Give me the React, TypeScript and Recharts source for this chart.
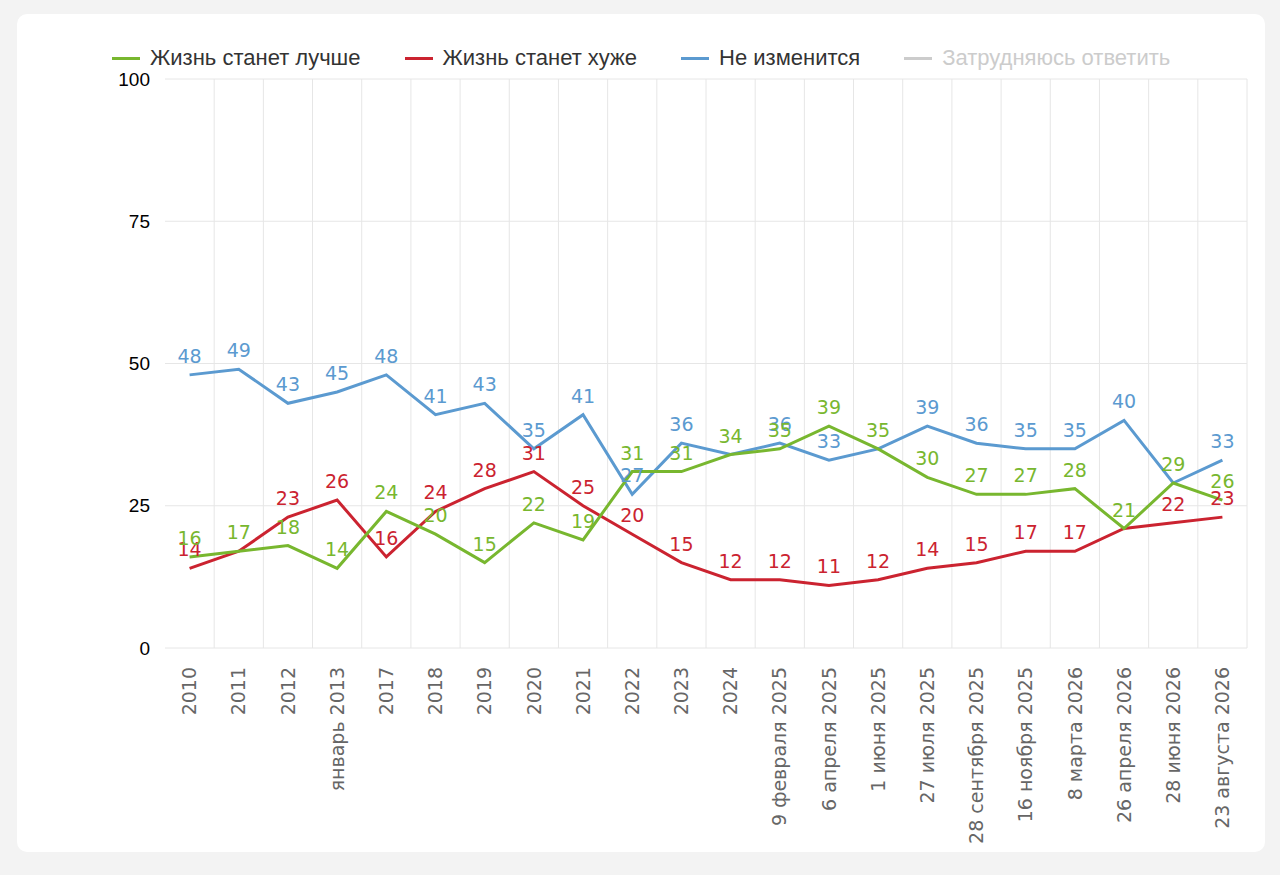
import React from "react";
import { LineChart, Line, XAxis, YAxis, CartesianGrid } from "recharts";

const categories = [
  "2010", "2011", "2012", "январь 2013", "2017", "2018", "2019", "2020", "2021", "2022", "2023", "2024",
  "9 февраля 2025", "6 апреля 2025", "1 июня 2025", "27 июля 2025", "28 сентября 2025", "16 ноября 2025",
  "8 марта 2026", "26 апреля 2026", "28 июня 2026", "23 августа 2026",
];
const better = [16, 17, 18, 14, 24, 20, 15, 22, 19, 31, 31, 34, 35, 39, 35, 30, 27, 27, 28, 21, 29, 26];
const worse = [14, 17, 23, 26, 16, 24, 28, 31, 25, 20, 15, 12, 12, 11, 12, 14, 15, 17, 17, 21, 22, 23];
const same = [48, 49, 43, 45, 48, 41, 43, 35, 41, 27, 36, 34, 36, 33, 35, 39, 36, 35, 35, 40, 29, 33];
const yTicks = [0, 25, 50, 75, 100];

const seriesNames = ["Жизнь станет лучше", "Жизнь станет хуже", "Не изменится", "Затрудняюсь ответить"];
const seriesColors = ["#78b72f", "#cb2330", "#5b9ad0", "#cccccc"];

const data = categories.map((c, i) => ({ cat: c, better: better[i], worse: worse[i], same: same[i] }));
const boundaryTicks = categories.map((_, i) => i + 1);

const verticalGen = (props: any) => {
  const { xAxis, offset } = props;
  try {
    if (xAxis && typeof xAxis.scale === "function") {
      const pts = boundaryTicks.map((t) => xAxis.scale(t));
      if (pts.every((p: any) => typeof p === "number" && isFinite(p))) return pts;
    }
  } catch (e) {
    /* fall through */
  }
  return boundaryTicks.map((t) => offset.left + (t * offset.width) / categories.length);
};

const makeLabel = (color: string, hideIfEqual?: number[]) => (props: any) => {
  const { x, y, value, index } = props;
  if (hideIfEqual && hideIfEqual[index] === value) return null;
  return (
    <text x={x} y={y - 12} fill={color} fontSize={19} fontFamily="DejaVu Sans" textAnchor="middle">
      {value}
    </text>
  );
};

const XTick = (props: any) => {
  const { x, y, payload } = props;
  return (
    <text
      x={x}
      y={y}
      transform={`rotate(-90, ${x}, ${y})`}
      textAnchor="end"
      dy="0.35em"
      fill="#666666"
      fontSize={19}
      fontFamily="DejaVu Sans"
    >
      {payload.value}
    </text>
  );
};

const Legend = () => (
  <div
    style={{
      position: "absolute",
      left: 112,
      top: 45,
      display: "flex",
      alignItems: "center",
      fontFamily: "Liberation Sans",
      fontSize: 22,
      whiteSpace: "nowrap",
    }}
  >
    {seriesNames.map((n, i) => (
      <div key={n} style={{ display: "flex", alignItems: "center", marginRight: 44 }}>
        <div style={{ width: 28, height: 3, background: seriesColors[i], marginRight: 10 }} />
        <span style={{ color: i === 3 ? "#cccccc" : "#333333" }}>{n}</span>
      </div>
    ))}
  </div>
);

export default function App() {
  return (
    <div style={{ position: "fixed", left: 0, top: 0, width: 1280, height: 875, background: "#f3f3f3" }}>
      <div
        style={{
          position: "absolute",
          left: 17,
          top: 14,
          width: 1248,
          height: 838,
          background: "#ffffff",
          borderRadius: 10,
        }}
      />
      <div style={{ position: "absolute", left: 0, top: 0 }}>
        <LineChart width={1280} height={875} data={data} margin={{ top: 79, right: 33, bottom: 27, left: 105 }}>
          <XAxis
            xAxisId="grid"
            type="number"
            domain={[0, categories.length]}
            ticks={boundaryTicks}
            allowDataOverflow
            height={0}
            tick={false}
            tickSize={9}
            tickLine={{ stroke: "#ccd6eb" }}
            axisLine={{ stroke: "#ccd6eb" }}
          />
          <XAxis
            dataKey="cat"
            scale="band"
            interval={0}
            height={200}
            axisLine={false}
            tickLine={false}
            tickSize={0}
            tickMargin={19}
            tick={<XTick />}
          />
          <YAxis
            domain={[0, 100]}
            ticks={yTicks}
            width={60}
            axisLine={false}
            tickLine={false}
            tickSize={0}
            tickMargin={15}
            tick={{ fill: "#000000", fontSize: 19, fontFamily: "Liberation Sans" }}
          />
          <CartesianGrid
            xAxisId="grid"
            stroke="#e6e6e6"
            strokeWidth={1}
            verticalCoordinatesGenerator={verticalGen}
          />
          <Line
            dataKey="same"
            stroke={seriesColors[2]}
            strokeWidth={3}
            dot={false}
            activeDot={false}
            isAnimationActive={false}
            label={makeLabel(seriesColors[2], better)}
          />
          <Line
            dataKey="worse"
            stroke={seriesColors[1]}
            strokeWidth={3}
            dot={false}
            activeDot={false}
            isAnimationActive={false}
            label={makeLabel(seriesColors[1], better)}
          />
          <Line
            dataKey="better"
            stroke={seriesColors[0]}
            strokeWidth={3}
            dot={false}
            activeDot={false}
            isAnimationActive={false}
            label={makeLabel(seriesColors[0])}
          />
        </LineChart>
      </div>
      <Legend />
    </div>
  );
}
